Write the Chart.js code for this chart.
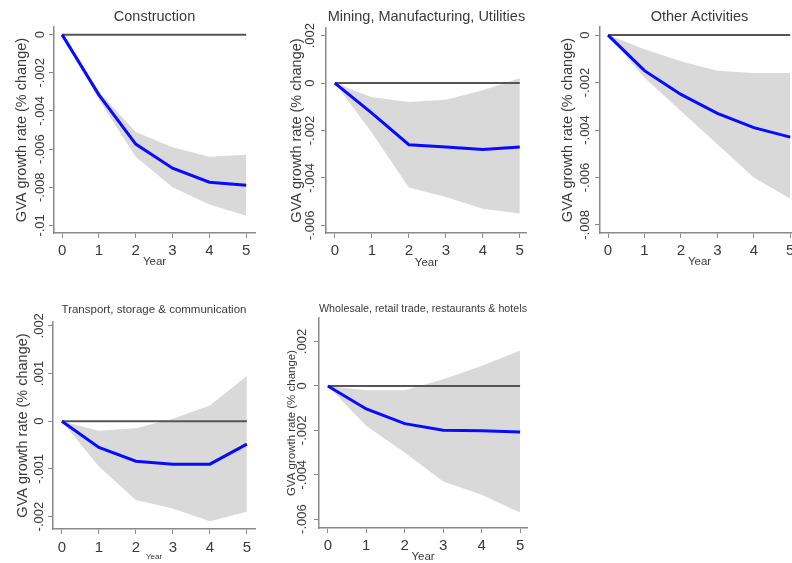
<!DOCTYPE html>
<html>
<head>
<meta charset="utf-8">
<script src="https://cdn.jsdelivr.net/npm/chart.js@4.4.1/dist/chart.umd.min.js"></script>
<style>
  html, body { margin: 0; padding: 0; background: #fff; overflow: hidden; }
  #wrap { position: relative; width: 792px; height: 563px; overflow: hidden; background: #fff; }
  #wrap canvas { position: absolute; }
</style>
</head>
<body>
<div id="wrap"></div>
<script>
// years after the shock
const years = [0, 1, 2, 3, 4, 5];

// Construction
const consMean = [0, -0.00316, -0.00574, -0.0070, -0.00774, -0.0079];
const consHi   = [0, -0.0030, -0.0051, -0.0059, -0.0064, -0.0063];
const consLo   = [0, -0.0034, -0.0064, -0.0080, -0.0089, -0.0095];
const consTicks = [0, -0.002, -0.004, -0.006, -0.008, -0.01];

// Mining, Manufacturing, Utilities
const minMean = [0, -0.00127, -0.0026, -0.0027, -0.0028, -0.0027];
const minHi   = [0, -0.0006, -0.0008, -0.0007, -0.0003, 0.0002];
const minLo   = [0, -0.0021, -0.0044, -0.0048, -0.0053, -0.0055];
const minTicks = [0.002, 0, -0.002, -0.004, -0.006];

// Other Activities
const othMean = [0, -0.0015, -0.0025, -0.0033, -0.0039, -0.0043];
const othHi   = [0, -0.0006, -0.0011, -0.0015, -0.0016, -0.0016];
const othLo   = [0, -0.0018, -0.0032, -0.0046, -0.0060, -0.0069];
const othTicks = [0, -0.002, -0.004, -0.006, -0.008];

// Transport, storage & communication
const trMean = [0, -0.00055, -0.00084, -0.0009, -0.0009, -0.00048];
const trHi   = [0, -0.0002, -0.00015, 0.00005, 0.00033, 0.00095];
const trLo   = [0, -0.00095, -0.00165, -0.00183, -0.0021, -0.0019];
const trTicks = [0.002, 0.001, 0, -0.001, -0.002];

// Wholesale, retail trade, restaurants & hotels
const whMean = [0, -0.00104, -0.0017, -0.002, -0.00202, -0.00207];
const whHi   = [0, -0.0002, -0.0002, 0.0003, 0.0009, 0.0016];
const whLo   = [0, -0.0018, -0.003, -0.0043, -0.0049, -0.0057];
const whTicks = [0.002, 0, -0.002, -0.004, -0.006];

const FONT = '"Liberation Sans", Arial, Helvetica, sans-serif';
const AXIS = '#8a8a8a';
const TXT = '#3a3a3a';
Chart.defaults.font.family = FONT;

// stata style labels: -.002, .001, 0
function fmt(v) {
  if (v === 0) return '0';
  return String(+v.toFixed(5)).replace(/^(-?)0\./, '$1.');
}

// y tick labels turned 90 degrees, like the original
const yLabels = {
  id: 'yLabels',
  afterDraw(chart, args, opts) {
    const s = chart.scales.y, ctx = chart.ctx;
    ctx.save();
    ctx.fillStyle = TXT;
    ctx.font = opts.size + 'px ' + FONT;
    ctx.textAlign = 'center';
    ctx.textBaseline = 'middle';
    s.ticks.forEach(t => {
      ctx.save();
      ctx.translate(s.right - 5 - opts.pad - opts.size / 2, s.getPixelForValue(t.value));
      ctx.rotate(-Math.PI / 2);
      ctx.fillText(fmt(t.value), 0, 0);
      ctx.restore();
    });
    ctx.restore();
  }
};

const wrap = document.getElementById('wrap');

function pts(arr) {
  return years.map((x, i) => ({ x: x, y: arr[i] }));
}

function makePanel(p) {
  const cv = document.createElement('canvas');
  cv.width = p.box.w; cv.height = p.box.h;
  cv.style.left = p.box.x + 'px'; cv.style.top = p.box.y + 'px';
  cv.style.width = p.box.w + 'px'; cv.style.height = p.box.h + 'px';
  wrap.appendChild(cv);

  const f = p.font;
  const tLh = f.title * 1.2;
  const tPt = 2;
  const tPb = p.area.t - p.titleY - tLh / 2;
  const tH = tLh + tPt + tPb;

  const yLh = f.yTitle * 1.2;
  const yPt = p.yTitleX - (p.area.l - p.yw) - yLh / 2;
  const xLh = f.xTitle * 1.2;
  const xPb = p.area.b + p.xh - xLh / 2 - p.yearY;

  new Chart(cv, {
    type: 'line',
    data: {
      datasets: [
        { data: pts(p.mean), borderColor: '#0a0aff', borderWidth: 3, pointRadius: 0, fill: false, tension: 0 },
        { data: pts(years.map(() => 0)), borderColor: '#555555', borderWidth: 2, pointRadius: 0, fill: false },
        { data: pts(p.hi), borderColor: 'rgba(0,0,0,0)', borderWidth: 0, pointRadius: 0, fill: '+1', backgroundColor: '#d9d9d9' },
        { data: pts(p.lo), borderColor: 'rgba(0,0,0,0)', borderWidth: 0, pointRadius: 0, fill: false }
      ]
    },
    options: {
      responsive: false,
      animation: false,
      events: [],
      layout: {
        padding: {
          top: p.area.t - p.box.y - tH,
          left: p.area.l - p.box.x - p.yw,
          right: p.box.x + p.box.w - p.area.r,
          bottom: p.box.y + p.box.h - p.area.b - p.xh
        }
      },
      plugins: {
        legend: { display: false },
        tooltip: { enabled: false },
        title: {
          display: true, text: p.title, fullSize: false, color: TXT,
          font: { size: f.title, weight: 'normal' },
          padding: { top: tPt, bottom: tPb }
        },
        yLabels: { size: f.yTick, pad: p.ytPad }
      },
      scales: {
        x: {
          type: 'linear', min: p.xr[0], max: p.xr[1],
          afterBuildTicks: s => { s.ticks = years.map(v => ({ value: v })); },
          afterFit: s => { s.height = p.xh; },
          ticks: { color: TXT, font: { size: f.xTick }, padding: p.xtPad, callback: v => String(v), maxRotation: 0 },
          grid: { drawOnChartArea: false, drawTicks: true, tickLength: 5, color: AXIS, lineWidth: 1 },
          border: { display: true, color: AXIS, width: 1.5 },
          title: { display: true, text: 'Year', color: TXT, font: { size: f.xTitle }, padding: { top: 0, bottom: xPb } }
        },
        y: {
          type: 'linear', min: p.yr[0], max: p.yr[1],
          afterBuildTicks: s => { s.ticks = p.ticks.map(v => ({ value: v })); },
          afterFit: s => { s.width = p.yw; },
          ticks: { display: false },
          grid: { drawOnChartArea: false, drawTicks: true, tickLength: 5, color: AXIS, lineWidth: 1 },
          border: { display: true, color: AXIS, width: 1.5 },
          title: { display: true, text: 'GVA growth rate (% change)', color: TXT, font: { size: f.yTitle }, padding: { top: yPt, bottom: 0 } }
        }
      }
    },
    plugins: [yLabels]
  });
}

const bigFont = { title: 14.5, yTitle: 14.5, yTick: 13, xTick: 15, xTitle: 11.5 };

makePanel({
  title: 'Construction', mean: consMean, hi: consHi, lo: consLo, ticks: consTicks,
  box: { x: 0, y: 0, w: 264, h: 280 }, area: { l: 54, t: 27, r: 255, b: 233 },
  xr: [-0.22, 5.24], yr: [-0.0104, 0.0004],
  yw: 44, xh: 38, ytPad: 2, xtPad: 4, titleY: 17, yTitleX: 22, yearY: 262, font: bigFont
});

makePanel({
  title: 'Mining, Manufacturing, Utilities', mean: minMean, hi: minHi, lo: minLo, ticks: minTicks,
  box: { x: 264, y: 0, w: 264, h: 280 }, area: { l: 326, t: 28, r: 527, b: 233 },
  xr: [-0.24, 5.19], yr: [-0.00632, 0.00232],
  yw: 41, xh: 38, ytPad: 4.5, xtPad: 4, titleY: 17, yTitleX: 297, yearY: 263, font: bigFont
});

makePanel({
  title: 'Other Activities', mean: othMean, hi: othHi, lo: othLo, ticks: othTicks,
  box: { x: 528, y: 0, w: 290, h: 280 }, area: { l: 600, t: 27, r: 799, b: 233 },
  xr: [-0.22, 5.24], yr: [-0.00834, 0.00034],
  yw: 44, xh: 38, ytPad: 3.5, xtPad: 4, titleY: 17, yTitleX: 568, yearY: 262, font: bigFont
});

makePanel({
  title: 'Transport, storage & communication', mean: trMean, hi: trHi, lo: trLo, ticks: trTicks,
  box: { x: 0, y: 285, w: 264, h: 282 }, area: { l: 53, t: 322, r: 255, b: 529 },
  xr: [-0.24, 5.22], yr: [-0.00226, 0.00208],
  yw: 43, xh: 36, ytPad: 2, xtPad: 5, titleY: 309.5, yTitleX: 22.5, yearY: 557,
  font: { title: 11.5, yTitle: 14.5, yTick: 13, xTick: 15, xTitle: 8 }
});

makePanel({
  title: 'Wholesale, retail trade, restaurants & hotels', mean: whMean, hi: whHi, lo: whLo, ticks: whTicks,
  box: { x: 270, y: 285, w: 270, h: 282 }, area: { l: 319, t: 318, r: 527, b: 528 },
  xr: [-0.23, 5.18], yr: [-0.0064, 0.00306],
  yw: 36, xh: 38, ytPad: 5.5, xtPad: 4, titleY: 309, yTitleX: 292, yearY: 557,
  font: { title: 11.5, yTitle: 11.5, yTick: 13, xTick: 15, xTitle: 11.5 }
});
</script>
</body>
</html>
